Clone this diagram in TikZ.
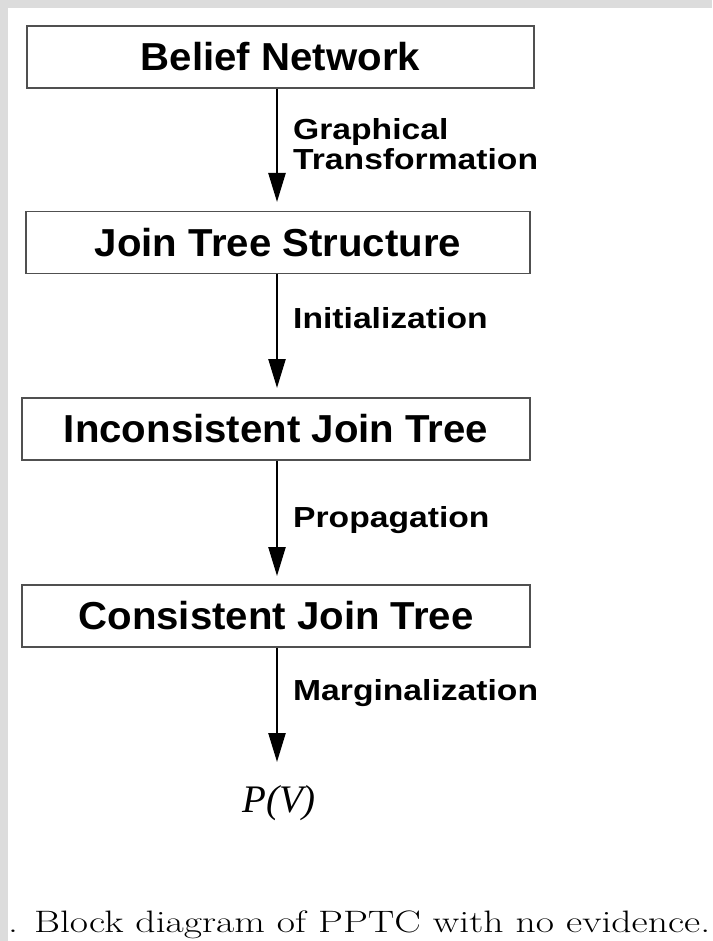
\documentclass[tikz,border=0pt]{standalone}
\usepackage{fontspec}
\usetikzlibrary{arrows.meta}
\newfontfamily\boxfont{Liberation Sans}
\newfontfamily\pvfont{Liberation Serif}
\definecolor{frame}{HTML}{DCDCDC}
\definecolor{edge}{HTML}{505050}
\tikzset{
  stage/.style={draw=edge, line width=1.8pt, fill=white, inner sep=0pt,
    minimum height=62pt, font=\boxfont\bfseries\fontsize{39}{46}\selectfont},
  flow/.style={line width=2.4pt, -{Triangle[length=29pt,width=17pt]}},
  steplabel/.style={anchor=base west, inner sep=0pt, align=left,
    font=\boxfont\bfseries\fontsize{29}{30}\selectfont}
}
\newcommand{\wide}[2]{\scalebox{#1}[1]{#2}}
\begin{document}
\begin{tikzpicture}[x=1pt,y=-1pt]
  % page with grey frame on top and left
  \fill[white] (0,0) rectangle (712,941);
  \useasboundingbox (0,0) rectangle (712,941);
  \fill[frame] (0,0) rectangle (712,8);
  \fill[frame] (0,0) rectangle (8,941);

  % stages
  \node[stage, minimum width=507pt] (b1) at (280.5,57) {\wide{1.03}{Belief Network}};
  \node[stage, minimum width=504pt] (b2) at (278,242.5) {\wide{1.03}{Join Tree Structure}};
  \node[stage, minimum width=508pt] (b3) at (276,429) {\wide{1.03}{Inconsistent Join Tree}};
  \node[stage, minimum width=508pt] (b4) at (276,616) {\wide{1.03}{Consistent Join Tree}};
  \node[anchor=base, inner sep=0pt, font=\pvfont\itshape\fontsize{39}{40}\selectfont] (pv) at (279,812) {P(V)};

  % arrow tips
  \coordinate (t1) at (277,202);
  \coordinate (t2) at (277,388);
  \coordinate (t3) at (277,576);
  \coordinate (t4) at (277,762);

  \draw[flow] (b1.south -| t1) -- (t1);
  \draw[flow] (b2.south -| t2) -- (t2);
  \draw[flow] (b3.south -| t3) -- (t3);
  \draw[flow] (b4.south -| t4) -- (t4);

  % transformation labels
  \node[steplabel] (l1a) at (293,140) {\wide{1.16}{Graphical}};
  \node[steplabel] (l1b) at (293,170) {\wide{1.16}{Transformation}};
  \node[steplabel] (l2) at (293,328) {\wide{1.16}{Initialization}};
  \node[steplabel] (l3) at (293,527) {\wide{1.16}{Propagation}};
  \node[steplabel] (l4) at (293,700) {\wide{1.16}{Marginalization}};

  % caption
  \node[anchor=base west, inner sep=0pt, font=\fontsize{31}{34}\selectfont] (cap) at (8,932)
    {\wide{1.28}{. Block diagram of PPTC with no evidence.}};
\end{tikzpicture}
\end{document}
